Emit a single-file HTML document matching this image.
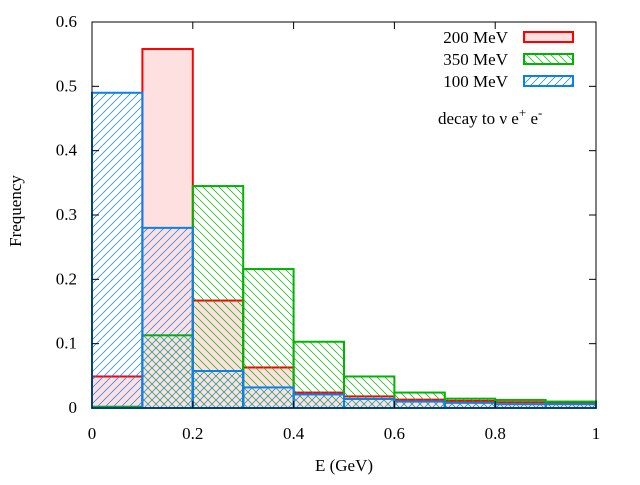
<!DOCTYPE html>
<html><head><meta charset="utf-8"><style>
body{margin:0;background:#fff}
text{font-family:"Liberation Serif",serif;font-size:17px;fill:#000}
</style></head><body>
<svg id="chart" width="640" height="480" xmlns="http://www.w3.org/2000/svg">
<defs>
<pattern id="hatchBlue" patternUnits="userSpaceOnUse" width="8" height="8">
<path d="M-1,9 L9,-1 M-1,1 L1,-1 M7,9 L9,7" stroke="#0a7ff0" stroke-width="0.7"/>
</pattern>
<pattern id="hatchGreen" patternUnits="userSpaceOnUse" width="8" height="8">
<path d="M-1,-1 L9,9 M-1,7 L1,9 M7,-1 L9,1" stroke="#00b400" stroke-width="0.7"/>
</pattern>
</defs>
<g id="plot"></g>
<g id="axes"></g>
</svg>
<script>
const binEdges=[0,0.1,0.2,0.3,0.4,0.5,0.6,0.7,0.8,0.9,1.0];
const mev200=[0.049,0.558,0.167,0.063,0.024,0.018,0.013,0.011,0.009,0.008];
const mev350=[0.002,0.113,0.345,0.216,0.103,0.049,0.024,0.0145,0.0125,0.010];
const mev100=[0.49,0.28,0.0575,0.032,0.021,0.014,0.010,0.008,0.006,0.006];
const xTicks=[0,0.2,0.4,0.6,0.8,1];
const xTickLabels=["0","0.2","0.4","0.6","0.8","1"];
const yTicks=[0,0.1,0.2,0.3,0.4,0.5,0.6];
const yTickLabels=["0","0.1","0.2","0.3","0.4","0.5","0.6"];
const L=92,R=596,T=22,B=408;
const X=v=>L+(v-0)/(1-0)*(R-L);
const Y=v=>B-(v/0.6)*(B-T);
const NS="http://www.w3.org/2000/svg";
function mk(tag,attrs,parent){const e=document.createElementNS(NS,tag);for(const k in attrs)e.setAttribute(k,attrs[k]);parent.appendChild(e);return e;}
const plot=document.getElementById('plot'),axes=document.getElementById('axes');
const series=[
 {name:'200',vals:mev200,fill:'#ffe0e0',stroke:'#ff0000'},
 {name:'350',vals:mev350,fill:'url(#hatchGreen)',stroke:'#00b400'},
 {name:'100',vals:mev100,fill:'url(#hatchBlue)',stroke:'#0a7ff0'}];
series.forEach(s=>{
 const g=mk('g',{},plot);
 
 
 s.vals.forEach((v,i)=>{
  const x0=X(binEdges[i]),x1=X(binEdges[i+1]),y=Y(v);
  const r=mk('rect',{x:x0,y:y,width:x1-x0,height:B-y,fill:s.fill,stroke:s.stroke,'stroke-width':2},g);
  
  
 });
});
const fr=mk('rect',{x:L,y:T,width:R-L,height:B-T,fill:'none',stroke:'#000','stroke-width':1},axes);


xTicks.forEach((v,i)=>{
 const x=X(v);
 mk('line',{x1:x,y1:B,x2:x,y2:B-7,stroke:'#000'},axes);
 mk('line',{x1:x,y1:T,x2:x,y2:T+7,stroke:'#000'},axes);
 const t=mk('text',{x:x,y:B+31,'text-anchor':'middle'},axes);t.textContent=xTickLabels[i];
 
 
});
yTicks.forEach((v,i)=>{
 const y=Y(v);
 mk('line',{x1:L,y1:y,x2:L+7,y2:y,stroke:'#000'},axes);
 mk('line',{x1:R,y1:y,x2:R-7,y2:y,stroke:'#000'},axes);
 const t=mk('text',{x:L-15,y:y+5,'text-anchor':'end'},axes);t.textContent=yTickLabels[i];
 
 
});
const lg=[['200 MeV','#ffe0e0','#ff0000',43],['350 MeV','url(#hatchGreen)','#00b400',65],['100 MeV','url(#hatchBlue)','#0a7ff0',87]];
lg.forEach(l=>{
 const t=mk('text',{x:508,y:l[3],'text-anchor':'end'},axes);t.textContent=l[0];
 
 
 const r=mk('rect',{x:524,y:l[3]-11,width:49,height:10,fill:l[1],stroke:l[2],'stroke-width':2},axes);
 
 
});
</script>
<svg style="position:absolute;left:0;top:0" width="640" height="480">
<text x="438" y="124">decay to ν  e<tspan dy="-7" font-size="13">+</tspan><tspan dy="7"> e</tspan><tspan dy="-7" font-size="13">-</tspan></text>
<text x="344" y="471" text-anchor="middle">E (GeV)</text>
<text x="0" y="0" transform="translate(21,211) rotate(-90)" text-anchor="middle">Frequency</text>
</svg>
</body></html>
